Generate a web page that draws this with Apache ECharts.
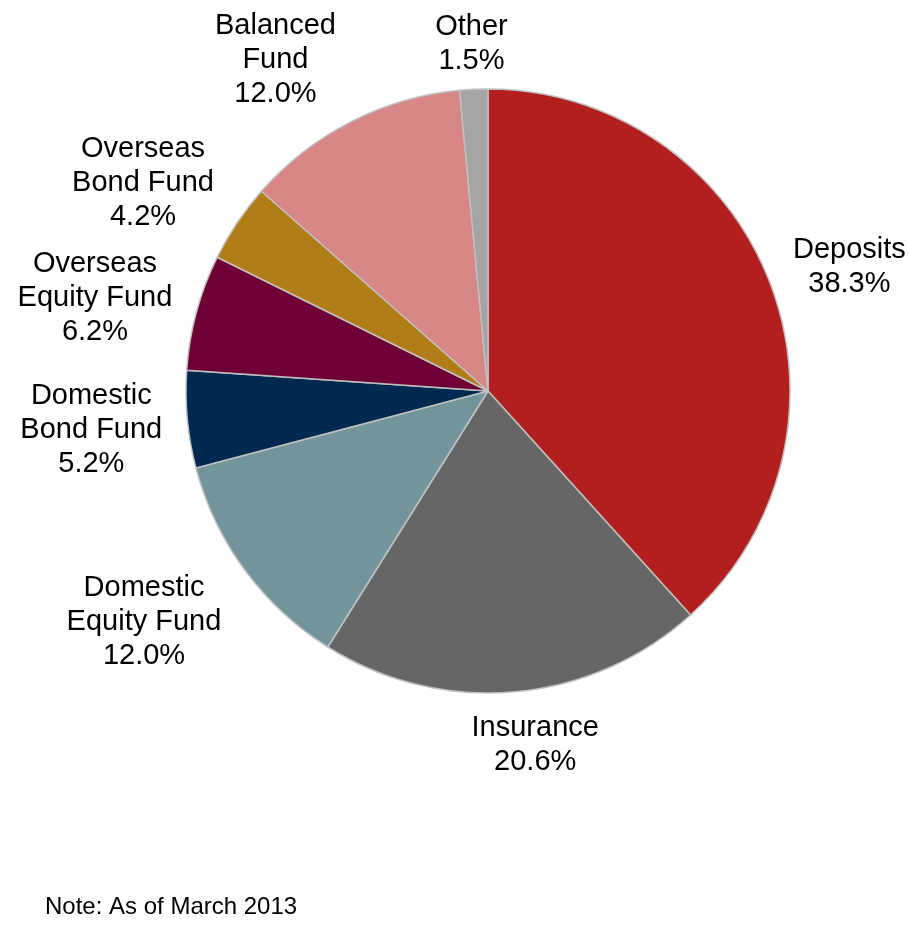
<!DOCTYPE html>
<html lang="en">
<head>
    <meta charset="UTF-8">
    <title>Asset allocation</title>
    <script src="https://cdn.jsdelivr.net/npm/echarts@6/dist/echarts.min.js"></script>
    <style>
        html, body { margin: 0; padding: 0; background: #fff; }
        #chart { width: 909px; height: 937px; }
    </style>
</head>
<body>
    <div id="chart"></div>
    <script>
    // 数据
    const names = ['Deposits', 'Insurance', 'Domestic\nEquity Fund', 'Domestic\nBond Fund',
        'Overseas\nEquity Fund', 'Overseas\nBond Fund', 'Balanced\nFund', 'Other'];
    const shares = [38.3, 20.6, 12.0, 5.2, 6.2, 4.2, 12.0, 1.5];
    const colors = ['#B21F1E', '#666666', '#71959A', '#00294F', '#6F0035', '#B27C17', '#D88686', '#A5A5A5'];

    // 标签位置微调（像素）
    const nudgeX = [6, 16, -15, -7, -3, -10, -36, 0];
    const nudgeY = [13, 0, -11, 2, 12, 17, 16, 4];

    const cx = 488, cy = 391, r = 302;
    const fontSize = 29, lineH = 34;
    const font = fontSize + 'px "Liberation Sans", Arial';
    const total = shares.reduce((a, b) => a + b, 0);

    // 每个扇区中线的方向（从正上方顺时针）
    const mids = [];
    let acc = 0;
    shares.forEach(v => {
        mids.push((acc + v / 2) / total * Math.PI * 2);
        acc += v;
    });

    const ctx = document.createElement('canvas').getContext('2d');
    ctx.font = font;
    function labelText(i) { return names[i] + '\n' + shares[i].toFixed(1) + '%'; }
    function labelSize(i) {
        const lines = labelText(i).split('\n');
        const w = Math.max.apply(null, lines.map(l => ctx.measureText(l).width));
        return { w: w, h: lines.length * lineH };
    }

    const chart = echarts.init(document.getElementById('chart'));
    chart.setOption({
        animation: false,
        color: colors,
        title: {
            text: 'Note: As of March 2013',
            left: 40, top: 890,
            textStyle: { fontFamily: '"Liberation Sans", Arial', fontSize: 24, fontWeight: 'normal', color: '#000' }
        },
        series: [{
            type: 'pie',
            center: [cx, cy],
            radius: [0, r],
            startAngle: 90,
            clockwise: true,
            itemStyle: { borderColor: '#C0C0C0', borderWidth: 1.5 },
            label: {
                show: true,
                position: 'outside',
                formatter: p => labelText(p.dataIndex),
                fontFamily: '"Liberation Sans", Arial',
                fontSize: fontSize,
                lineHeight: lineH,
                color: '#000',
                align: 'center',
                width: 240,
                overflow: 'none'
            },
            labelLine: { show: false },
            labelLayout: function (params) {
                const i = params.dataIndex;
                const a = mids[i];
                const sx = Math.sin(a), sy = -Math.cos(a);
                const s = labelSize(i);
                const d = r + 14 + Math.abs(sx) * s.w / 2 + Math.abs(sy) * s.h / 2;
                return {
                    x: cx + d * sx + nudgeX[i],
                    y: cy + d * sy + nudgeY[i],
                    align: 'center',
                    verticalAlign: 'middle'
                };
            },
            data: names.map((n, i) => ({ name: n, value: shares[i] }))
        }]
    });
    </script>
</body>
</html>
